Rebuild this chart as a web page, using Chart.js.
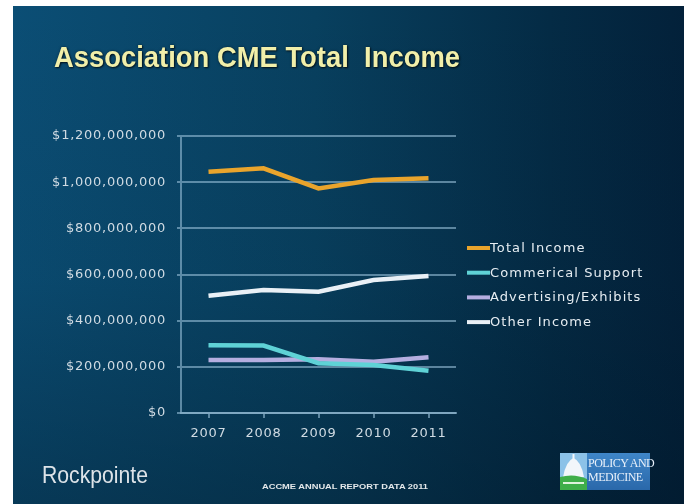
<!DOCTYPE html>
<html>
<head>
<meta charset="utf-8">
<script src="https://cdn.jsdelivr.net/npm/chart.js@4/dist/chart.umd.min.js"></script>
<style>
  html, body { margin: 0; padding: 0; background: #ffffff; }
  #wrap { position: relative; width: 684px; height: 504px; overflow: hidden; }
  #c { position: absolute; left: 0; top: 0; }
  .title {
    position: absolute; left: 54px; top: 42px; white-space: nowrap;
    font-family: "Liberation Sans", Arial, sans-serif;
    font-weight: bold; font-size: 30px; line-height: 1; color: #f1efaa;
    text-shadow: 1px 1px 2px rgba(0,0,0,0.7), 0 0 3px rgba(0,0,0,0.4);
    transform-origin: 0 0;
  }
  .brand {
    position: absolute; left: 42px; top: 463px; white-space: nowrap;
    font-family: "Liberation Sans Narrow", "Liberation Sans", Arial, sans-serif;
    font-size: 24px; line-height: 1; color: #dde3e8;
    transform-origin: 0 0;
  }
  .source {
    position: absolute; left: 262px; top: 483px; white-space: nowrap;
    font-family: "Liberation Sans", Arial, sans-serif; font-weight: bold;
    font-size: 7.5px; line-height: 1; color: #e4e8ea; transform-origin: 0 0;
  }
  .logo-text {
    position: absolute; left: 588px; top: 456px; width: 62px; white-space: nowrap;
    font-family: "Liberation Serif", serif; font-size: 12px; line-height: 14px;
    color: #e8f0fa; letter-spacing: -0.5px;
  }
</style>
</head>
<body>
<div id="wrap">
  <canvas id="c" width="684" height="504"></canvas>
  <div class="title" id="title">Association CME Total&nbsp; Income</div>
  <div class="brand" id="brand">Rockpointe</div>
  <div class="source" id="source">ACCME ANNUAL REPORT DATA 2011</div>
  <div class="logo-text">POLICY AND<br>MEDICINE</div>
</div>
<script>
// Years on the category axis
const years = ['2007', '2008', '2009', '2010', '2011'];

// Income streams, in US dollars
const totalIncome       = [1045000000, 1060000000, 973000000, 1009000000, 1017000000];
const commercialSupport = [294000000, 292000000, 216000000, 208000000, 183000000];
const advertising       = [230000000, 230000000, 233000000, 222000000, 242000000];
const otherIncome       = [508000000, 533000000, 525000000, 576000000, 594000000];

// Value axis ticks
const yTicks = [0, 200000000, 400000000, 600000000, 800000000, 1000000000, 1200000000];

const seriesNames  = ['Total Income', 'Commerical Support', 'Advertising/Exhibits', 'Other Income'];
const seriesColors = ['#e9a42c', '#5fd2d6', '#b5aee0', '#e9f0f6'];
const seriesData   = [totalIncome, commercialSupport, advertising, otherIncome];

const gridColor = 'rgba(150,190,215,0.6)';
const tickColor = '#d0dbe3';

// Slide background: white margin, then a blue gradient panel
const slideBackground = {
  id: 'slideBackground',
  beforeDraw(chart) {
    const ctx = chart.ctx;
    ctx.save();
    ctx.fillStyle = '#ffffff';
    ctx.fillRect(0, 0, chart.width, chart.height);
    const x0 = 13, y0 = 6, w = chart.width - x0, h = chart.height - y0;
    const g = ctx.createLinearGradient(x0, 0, chart.width, 0);
    g.addColorStop(0, '#0b4e75');
    g.addColorStop(0.45, '#08405f');
    g.addColorStop(0.8, '#042b45');
    g.addColorStop(1, '#03213a');
    ctx.fillStyle = g;
    ctx.fillRect(x0, y0, w, h);
    const v = ctx.createLinearGradient(0, y0, 0, chart.height);
    v.addColorStop(0, 'rgba(0,20,35,0)');
    v.addColorStop(0.55, 'rgba(0,20,35,0.08)');
    v.addColorStop(1, 'rgba(0,18,32,0.35)');
    ctx.fillStyle = v;
    ctx.fillRect(x0, y0, w, h);
    ctx.restore();
    // axis labels on this slide are set with a little tracking
    if ('letterSpacing' in ctx) ctx.letterSpacing = '0.75px';
  },
  beforeDatasetsDraw(chart) {
    const ctx = chart.ctx;
    if ('letterSpacing' in ctx) ctx.letterSpacing = '0px';
  }
};

// Line-marker legend to the right of the plot
const lineLegend = {
  id: 'lineLegend',
  afterDraw(chart) {
    const ctx = chart.ctx;
    const x = chart.chartArea.right + 11;
    const top = 248, step = 24.7;
    ctx.save();
    ctx.font = '13px "DejaVu Sans", sans-serif';
    if ('letterSpacing' in ctx) ctx.letterSpacing = '1.1px';
    ctx.textBaseline = 'middle';
    chart.data.datasets.forEach((ds, i) => {
      const y = top + i * step;
      ctx.strokeStyle = ds.borderColor;
      ctx.lineWidth = 4;
      ctx.beginPath();
      ctx.moveTo(x, y);
      ctx.lineTo(x + 23, y);
      ctx.stroke();
      ctx.fillStyle = '#e6edf2';
      ctx.fillText(ds.label, x + 23, y + 0.5);
    });
    if ('letterSpacing' in ctx) ctx.letterSpacing = '0px';
    ctx.restore();
  }
};

// Policy and Medicine badge graphic
const badge = {
  id: 'badge',
  afterDraw(chart) {
    const ctx = chart.ctx;
    ctx.save();
    const bx = 560, by = 453, bw = 90, bh = 37;
    const g = ctx.createLinearGradient(bx, by, bx, by + bh);
    g.addColorStop(0, '#3f86c8');
    g.addColorStop(1, '#2a68aa');
    ctx.fillStyle = g;
    ctx.fillRect(bx, by, bw, bh);
    // icon panel
    ctx.fillStyle = '#8cc2e8';
    ctx.fillRect(bx, by, 27, bh);
    // dome
    ctx.fillStyle = '#f2f6fa';
    ctx.beginPath();
    ctx.moveTo(bx + 3, by + 24);
    ctx.quadraticCurveTo(bx + 6, by + 8, bx + 13.5, by + 5);
    ctx.quadraticCurveTo(bx + 21, by + 8, bx + 24, by + 24);
    ctx.closePath();
    ctx.fill();
    ctx.fillRect(bx + 12.5, by + 1, 2, 5);
    // green base
    ctx.fillStyle = '#3fae49';
    ctx.beginPath();
    ctx.moveTo(bx, by + 24);
    ctx.quadraticCurveTo(bx + 14, by + 20, bx + 27, by + 26);
    ctx.lineTo(bx + 27, by + bh);
    ctx.lineTo(bx, by + bh);
    ctx.closePath();
    ctx.fill();
    ctx.fillStyle = '#dff2dc';
    ctx.fillRect(bx + 3, by + 29, 21, 2);
    ctx.restore();
  }
};

const chart = new Chart(document.getElementById('c'), {
  type: 'line',
  data: {
    labels: years,
    datasets: seriesData.map((d, i) => ({
      label: seriesNames[i],
      data: d,
      borderColor: seriesColors[i],
      backgroundColor: seriesColors[i],
      borderWidth: 4.5,
      pointRadius: 0,
      tension: 0,
      fill: false
    }))
  },
  options: {
    responsive: false,
    animation: false,
    devicePixelRatio: 1,
    layout: { padding: { left: 13, right: 228, top: 136, bottom: 51 } },
    plugins: {
      legend: { display: false },
      title: { display: false },
      tooltip: { enabled: false }
    },
    scales: {
      x: {
        offset: true,
        grid: {
          display: true, drawOnChartArea: false, drawTicks: true,
          tickLength: 5, color: gridColor, lineWidth: 2
        },
        border: { display: true, color: gridColor, width: 2 },
        ticks: {
          color: tickColor, padding: 8,
          font: { family: '"DejaVu Sans", sans-serif', size: 13 }
        },
        afterFit(scale) { scale.height = 40; }
      },
      y: {
        min: 0, max: 1200000000,
        afterBuildTicks(scale) { scale.ticks = yTicks.map(v => ({ value: v })); },
        grid: { color: gridColor, lineWidth: 2, tickLength: 4 },
        border: { display: true, color: gridColor, width: 2 },
        ticks: {
          color: tickColor, padding: 11,
          font: { family: '"DejaVu Sans", sans-serif', size: 13 },
          callback: v => '$' + Number(v).toLocaleString('en-US')
        },
        afterFit(scale) { scale.width = 168; }
      }
    }
  },
  plugins: [slideBackground, lineLegend, badge]
});

// Fit the heading, brand and source note to their widths on the slide
function fitWidth(id, target) {
  const el = document.getElementById(id);
  const w = el.getBoundingClientRect().width;
  if (w > 0) el.style.transform = 'scaleX(' + (target / w) + ')';
}
fitWidth('title', 406);
fitWidth('brand', 106);
fitWidth('source', 166);
</script>
</body>
</html>
